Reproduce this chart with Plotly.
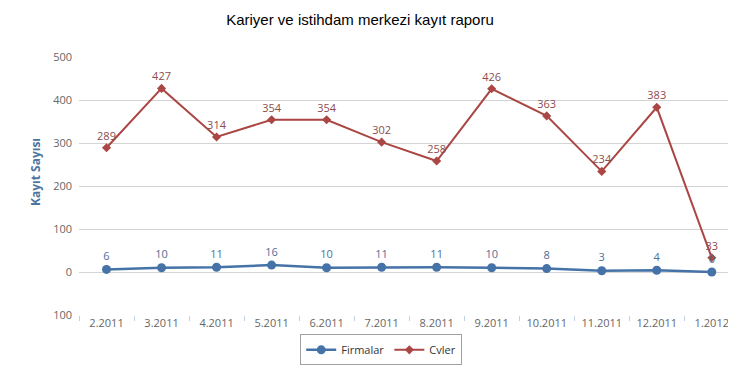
import plotly.graph_objects as go

categories = ["2.2011", "3.2011", "4.2011", "5.2011", "6.2011", "7.2011",
              "8.2011", "9.2011", "10.2011", "11.2011", "12.2011", "1.2012"]
firmalar = [6, 10, 11, 16, 10, 11, 11, 10, 8, 3, 4, 0]
cvler = [289, 427, 314, 354, 354, 302, 258, 426, 363, 234, 383, 33]
y_tickvals = [-100, 0, 100, 200, 300, 400, 500]
y_ticktext = ["100", "0", "100", "200", "300", "400", "500"]

blue = "#4572A7"
red = "#AA4643"
label_font = "Open Sans, Lato, sans-serif"

fig = go.Figure()
fig.add_trace(go.Scatter(
    x=categories, y=cvler, name="Cvler", mode="lines+markers+text", legendrank=2,
    line=dict(color=red, width=2), marker=dict(symbol="diamond", size=7, color=red),
    text=[str(v) for v in cvler], textposition="top center",
    textfont=dict(color="#8b4d4d", size=11, family=label_font), cliponaxis=False))
fig.add_trace(go.Scatter(
    x=categories, y=firmalar, name="Firmalar", mode="lines+markers+text", legendrank=1,
    line=dict(color=blue, width=2.5), marker=dict(symbol="circle", size=9, color=blue),
    text=[str(v) for v in firmalar], textposition="top center",
    textfont=dict(color="#4d6f9a", size=11, family=label_font), cliponaxis=False))

fig.update_layout(
    width=728, height=361,
    margin=dict(l=71, r=0, t=49, b=54),
    paper_bgcolor="white", plot_bgcolor="white",
    title=dict(text="Kariyer ve istihdam merkezi kayıt raporu", x=0.4835, xanchor="center",
               y=1 - 12 / 361, yanchor="middle",
               font=dict(family="Liberation Sans, Arial, sans-serif", size=15, color="#000000")),
    showlegend=True,
    legend=dict(orientation="h", x=0.46, xanchor="center", y=-0.135, yanchor="middle",
                bordercolor="#a0a0a0", borderwidth=1, bgcolor="white",
                font=dict(family=label_font, size=11, color="#333333"),
                itemwidth=30),
    xaxis=dict(type="category", range=[-0.5, 11.44], showgrid=False,
               ticks="outside", tickson="boundaries", ticklen=5, tickcolor="#c0d0e0",
               showline=False, zeroline=False,
               tickfont=dict(family=label_font, size=11, color="#666666")),
    yaxis=dict(range=[-100, 500], tickvals=y_tickvals, ticktext=y_ticktext,
               showgrid=True, gridcolor="#d4d4d4", gridwidth=1,
               zeroline=True, zerolinecolor="#d4d4d4", zerolinewidth=1,
               showline=False, ticks="", ticklabelstandoff=6,
               tickfont=dict(family=label_font, size=11, color="#666666")),
    annotations=[dict(text="<b>Kayıt Sayısı</b>", textangle=-90,
                      xref="paper", yref="paper", x=-(71 - 27) / 657, y=(307 - 164) / 258,
                      xanchor="center", yanchor="middle", showarrow=False,
                      font=dict(family=label_font, size=12, color="#4d759e"))],
)

fig.write_html("out.html")
